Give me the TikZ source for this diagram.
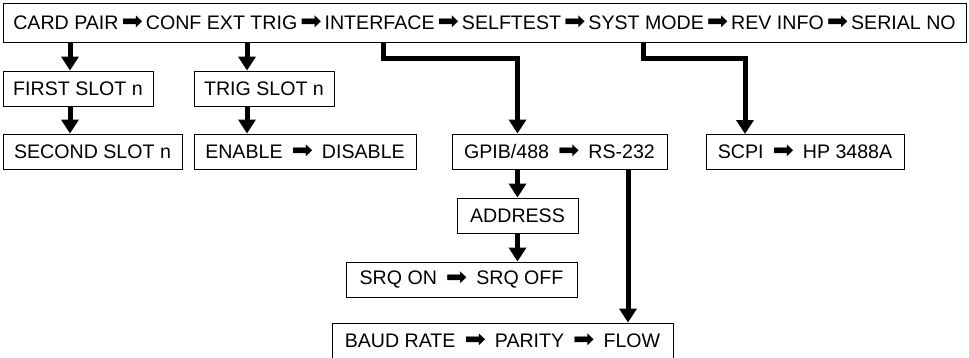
\documentclass[tikz,border=0pt]{standalone}
\usepackage{fontspec}
\setmainfont{Liberation Sans}
\newfontfamily\symfont{DejaVu Sans}
\usetikzlibrary{arrows.meta, positioning, calc}
\tikzstyle{menubox} = [draw, line width=0.9pt, minimum height=35pt, inner sep=0pt, font=\fontsize{19.6}{22}\selectfont]
\tikzstyle{flow} = [line width=5pt, line join=miter, -{Triangle[width=17pt,length=14pt]}]
\newcommand{\arr}{\raisebox{-0.6pt}{\scalebox{1.3}[1.25]{\symfont ➡}}}
\newcommand{\nxt}{\hspace{3pt}\arr\hspace{3pt}}
\newcommand{\gap}{\hspace{9pt}\arr\hspace{9pt}}
\begin{document}
\begin{tikzpicture}[x=1pt, y=-1pt]
    \useasboundingbox (0,0) rectangle (969,357);

    % front panel menu
    \node[menubox, minimum width=963pt, minimum height=39pt] (menu) at (484.5,22.5)
        {CARD PAIR\nxt CONF EXT TRIG\nxt INTERFACE\nxt SELFTEST\nxt SYST MODE\nxt REV INFO\nxt SERIAL NO};
    \coordinate (card) at (70,42);
    \coordinate (conf) at (247,42);
    \coordinate (iface) at (383,42);
    \coordinate (syst) at (643,42);

    % sub menus
    \node[menubox, minimum width=150pt] (first) at (78,88.5) {FIRST SLOT n};
    \node[menubox, minimum width=179pt] (second) at (92.5,151.5) {SECOND SLOT n};
    \node[menubox, minimum width=140pt] (trig) at (264,88.5) {TRIG SLOT n};
    \node[menubox, minimum width=222pt] (enable) at (305,151.5) {ENABLE\gap DISABLE};
    \node[menubox, minimum width=215pt] (gpib) at (559.5,151.5) {GPIB/488\gap RS-232};
    \node[menubox, minimum width=198pt] (scpi) at (805,151.5) {SCPI\gap HP 3488A};
    \node[menubox, minimum width=121pt] (address) at (517.5,215.5) {ADDRESS};
    \node[menubox, minimum width=231pt] (srq) at (461.5,279.5) {SRQ ON\gap SRQ OFF};
    \node[menubox, minimum width=341pt] (baud) at (502.5,340.5) {BAUD RATE\gap PARITY\gap FLOW};
    \coordinate (rs) at (628,169);
    \coordinate (scpiin) at (745,134);

    \draw[flow] (card) -- (card |- first.north);
    \draw[flow] (card |- first.south) -- (card |- second.north);
    \draw[flow] (conf) -- (conf |- trig.north);
    \draw[flow] (conf |- trig.south) -- (conf |- enable.north);
    \draw[flow] (iface) -- ++(0,16) -| (address.north |- gpib.north);
    \draw[flow] (gpib.south -| address) -- (address.north);
    \draw[flow] (address.south) -- (srq.north -| address);
    \draw[flow] (rs) -- (rs |- baud.north);
    \draw[flow] (syst) -- ++(0,16) -| (scpiin);
\end{tikzpicture}
\end{document}
